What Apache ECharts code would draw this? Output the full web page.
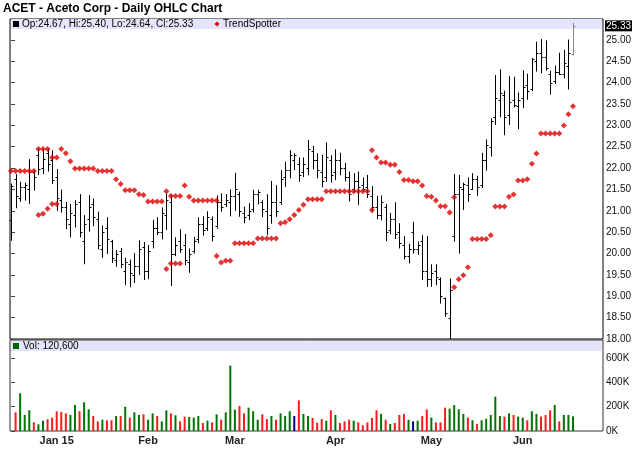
<!DOCTYPE html>
<html lang="en">
<head>
<meta charset="utf-8">
<title>ACET - Aceto Corp - Daily OHLC Chart</title>
<script src="https://cdn.jsdelivr.net/npm/echarts@6/dist/echarts.min.js"></script>
<style>
  * { margin: 0; padding: 0; box-sizing: border-box; }
  html, body { width: 100%; height: 100%; background: #fff; }
  #main { width: 640px; height: 468px; }
</style>
</head>
<body>
<div id="main"></div>
<script>
// trading days shown on the chart
const dates = [
  '2014-12-17','2014-12-18','2014-12-19','2014-12-22','2014-12-23','2014-12-24','2014-12-26','2014-12-29','2014-12-30','2014-12-31',
  '2015-01-02','2015-01-05','2015-01-06','2015-01-07','2015-01-08','2015-01-09','2015-01-12','2015-01-13','2015-01-14','2015-01-15',
  '2015-01-16','2015-01-20','2015-01-21','2015-01-22','2015-01-23','2015-01-26','2015-01-27','2015-01-28','2015-01-29','2015-01-30',
  '2015-02-02','2015-02-03','2015-02-04','2015-02-05','2015-02-06','2015-02-09','2015-02-10','2015-02-11','2015-02-12','2015-02-13',
  '2015-02-17','2015-02-18','2015-02-19','2015-02-20','2015-02-23','2015-02-24','2015-02-25','2015-02-26','2015-02-27',
  '2015-03-02','2015-03-03','2015-03-04','2015-03-05','2015-03-06','2015-03-09','2015-03-10','2015-03-11','2015-03-12','2015-03-13',
  '2015-03-16','2015-03-17','2015-03-18','2015-03-19','2015-03-20','2015-03-23','2015-03-24','2015-03-25','2015-03-26','2015-03-27',
  '2015-03-30','2015-03-31',
  '2015-04-01','2015-04-02','2015-04-06','2015-04-07','2015-04-08','2015-04-09','2015-04-10','2015-04-13','2015-04-14','2015-04-15',
  '2015-04-16','2015-04-17','2015-04-20','2015-04-21','2015-04-22','2015-04-23','2015-04-24','2015-04-27','2015-04-28','2015-04-29',
  '2015-04-30',
  '2015-05-01','2015-05-04','2015-05-05','2015-05-06','2015-05-07','2015-05-08','2015-05-11','2015-05-12','2015-05-13','2015-05-14',
  '2015-05-15','2015-05-18','2015-05-19','2015-05-20','2015-05-21','2015-05-22','2015-05-26','2015-05-27','2015-05-28','2015-05-29',
  '2015-06-01','2015-06-02','2015-06-03','2015-06-04','2015-06-05','2015-06-08','2015-06-09','2015-06-10','2015-06-11','2015-06-12',
  '2015-06-15','2015-06-16'
];
const monthLabels = ['Jan 15', 'Feb', 'Mar', 'Apr', 'May', 'Jun'];

const opens = [
  20.78,21.75,21.30,21.55,21.50,21.90,22.30,22.00,22.35,22.20,
  21.80,21.25,21.10,20.70,20.90,21.20,20.30,20.80,21.15,20.80,
  20.10,20.60,20.30,19.85,20.05,19.60,19.75,19.50,19.70,20.15,
  19.60,20.30,20.60,20.50,20.90,21.20,20.00,20.30,20.20,19.80,
  20.05,20.35,20.70,20.60,20.80,20.65,21.20,21.15,21.20,21.35,
  21.40,20.95,20.90,21.05,21.40,21.20,21.00,20.90,21.20,21.20,
  21.80,21.95,22.20,22.10,21.90,22.00,22.40,22.20,21.90,21.80,
  22.20,21.90,22.20,22.00,21.80,21.50,21.70,21.60,21.55,21.35,
  21.10,20.90,21.10,20.55,20.80,20.50,20.20,19.95,20.50,20.10,
  20.30,19.60,19.40,19.60,19.40,18.95,18.50,20.40,21.40,21.50,
  21.60,21.50,21.75,21.60,22.20,22.50,23.20,23.60,23.70,23.25,
  23.60,23.45,23.65,23.95,23.85,24.50,24.70,24.60,24.20,24.05,
  24.25,24.20,24.40,24.67
];
const highs = [
  21.64,21.86,21.68,21.66,22.21,21.96,22.46,22.44,22.46,22.42,
  21.98,21.50,21.21,21.16,21.25,21.39,20.90,21.37,21.29,20.98,
  20.66,20.85,20.32,20.08,20.13,19.90,19.86,20.01,20.31,20.27,
  20.20,20.79,20.85,21.08,21.41,21.39,20.38,20.57,20.46,20.12,
  20.39,20.85,20.87,20.99,20.87,21.36,21.41,21.39,21.50,21.89,
  21.45,21.10,21.18,21.49,21.49,21.25,21.39,21.70,21.60,21.95,
  22.15,22.42,22.35,22.25,22.25,22.66,22.52,22.35,22.31,22.60,
  22.30,22.44,22.36,22.12,21.92,21.88,21.92,21.78,21.84,21.58,
  21.35,21.36,21.16,20.95,21.20,20.71,20.41,20.23,20.74,20.28,
  20.43,20.41,19.75,19.75,19.44,18.97,19.42,21.86,21.84,21.66,
  21.78,21.88,21.82,22.36,22.67,23.17,24.18,24.31,23.81,24.16,
  24.14,23.77,24.29,24.21,24.58,24.96,25.02,24.99,24.28,24.40,
  24.70,24.77,25.01,25.40
];
const lows = [
  20.30,21.06,21.21,21.24,21.16,21.47,21.84,21.86,21.92,21.63,
  21.00,20.96,20.57,20.38,20.61,20.38,19.75,20.51,20.64,20.10,
  19.90,19.99,19.78,19.69,19.66,19.26,19.21,19.31,19.50,19.38,
  19.40,20.12,20.43,20.33,20.55,19.24,19.94,20.02,19.73,19.55,
  20.00,20.24,20.42,20.53,20.28,20.58,20.98,21.09,20.87,21.00,
  20.86,20.71,20.78,20.96,21.15,20.85,20.43,20.70,20.86,21.14,
  21.56,21.76,21.95,21.68,21.79,21.83,21.97,21.76,21.55,21.68,
  21.66,21.72,21.83,21.69,21.22,21.42,21.14,21.45,21.30,20.96,
  20.80,20.78,20.29,20.45,20.34,20.12,19.86,19.77,20.00,19.97,
  19.38,19.22,19.22,19.26,18.83,18.52,18.00,20.28,20.00,21.02,
  21.21,21.49,21.35,21.53,21.94,22.27,23.01,23.19,22.77,23.01,
  23.42,22.91,23.40,23.60,23.80,24.26,24.22,24.28,23.72,23.97,
  24.18,24.10,23.84,24.64
];
const closes = [
  21.58,21.35,21.55,21.60,21.90,21.80,21.98,22.21,22.10,21.72,
  21.30,21.10,20.80,20.95,21.15,20.50,20.70,21.10,20.85,20.20,
  20.50,20.35,19.90,20.00,19.75,19.80,19.55,19.70,20.10,19.60,
  20.05,20.60,20.50,20.95,21.25,20.00,20.20,20.10,19.85,20.00,
  20.30,20.70,20.55,20.85,20.40,21.20,21.10,21.25,21.35,21.50,
  21.00,20.85,21.00,21.40,21.45,21.05,20.60,21.20,21.00,21.75,
  21.95,22.30,22.30,21.85,22.10,22.45,22.20,21.95,21.70,22.25,
  21.85,22.20,22.00,21.80,21.40,21.70,21.55,21.50,21.40,21.10,
  20.90,21.20,20.50,20.80,20.45,20.25,19.95,20.10,20.10,20.20,
  19.60,19.40,19.55,19.45,19.00,18.60,19.15,21.40,21.55,21.62,
  21.40,21.75,21.55,22.20,22.55,23.10,23.65,23.75,23.20,23.55,
  23.48,23.60,23.90,23.80,24.55,24.70,24.60,24.35,24.00,24.25,
  24.20,24.45,24.70,25.33
];
// volume in thousands of shares
const volK = [
  null,153,310,132,170,71,55,85,96,110,
  162,156,145,132,214,162,236,178,123,79,
  93,88,88,123,123,200,110,153,132,137,
  93,145,123,79,170,145,129,79,118,115,
  110,123,66,85,71,137,93,153,537,175,
  206,145,192,162,93,137,99,123,93,145,
  123,162,123,252,140,123,107,68,99,85,
  170,132,66,79,93,85,71,47,71,107,
  170,140,93,58,66,132,140,93,79,85,
  123,178,110,71,71,192,184,214,178,140,
  110,88,58,88,101,132,282,123,118,145,
  132,118,110,88,162,140,118,132,170,214,
  79,132,132,120.6
];
// TrendSpotter dots, two overlapping tracks
const trendUp = [
  21.93,21.93,21.93,21.93,21.93,21.93,22.45,22.45,22.45,22.25,
  22.25,22.45,22.35,22.16,21.99,21.99,21.99,21.99,21.99,21.93,
  21.93,21.93,21.93,21.74,21.63,21.48,21.48,21.48,21.39,21.37,
  21.22,21.22,21.22,21.22,21.46,21.35,21.35,21.35,21.59,21.33,
  21.24,21.24,21.24,21.24,21.24,21.24,null,null,null,null,
  null,null,null,null,null,null,null,null,null,null,
  null,null,null,null,null,null,null,null,null,null,
  null,null,null,null,null,null,null,null,null,22.42,
  22.25,22.13,22.13,22.08,22.08,21.91,21.72,21.72,21.69,21.69,
  21.59,21.35,21.33,21.24,21.11,21.11,20.96,21.32,null,null,
  null,null,null,null,null,null,null,null,null,null,
  null,null,null,null,null,null,null,null,null,null,
  null,null,null,null
];
const trendDn = [
  null,null,null,null,null,null,20.90,20.93,21.05,21.16,
  21.16,null,null,null,null,null,null,null,null,null,
  null,null,null,null,null,null,null,null,null,null,
  null,null,null,null,19.64,19.77,19.77,19.77,null,null,
  null,null,null,null,null,19.94,19.79,19.83,19.83,20.24,
  20.24,20.24,20.24,20.24,20.35,20.35,20.35,20.35,20.35,20.71,
  20.73,20.80,20.90,21.02,21.14,21.27,21.27,21.27,21.27,21.46,
  21.46,21.46,21.46,21.46,21.46,21.46,21.46,21.46,21.46,21.02,
  null,null,null,null,null,null,null,null,null,null,
  null,null,null,null,null,null,null,19.21,19.40,19.49,
  19.68,20.34,20.34,20.34,20.34,20.43,21.10,21.10,21.10,21.33,
  21.38,21.71,21.71,21.74,22.10,22.34,22.81,22.81,22.81,22.81,
  22.81,23.00,23.26,23.45
];

const font = '"Liberation Sans", Arial, sans-serif';
const last = dates.length - 1;

// first trading day of each month gets a label
const monthStarts = [];
for (let i = 1; i < dates.length; i++) {
  if (dates[i].slice(0, 7) !== dates[i - 1].slice(0, 7)) monthStarts.push(i);
}

const ohlc = dates.map((d, i) => [i, opens[i], highs[i], lows[i], closes[i]]);
const vol = volK.map((v, i) => [i, v]);
const toPoints = arr => arr.map((v, i) => [i, v]).filter(p => p[1] != null);

function volColor(i) {
  if (i === 0 || closes[i] > closes[i - 1]) return '#007400';
  if (closes[i] < closes[i - 1]) return '#ff1a1a';
  return '#000080';
}

function renderOhlc(params, api) {
  const i = api.value(0);
  const hi = api.coord([i, api.value(2)]);
  const lo = api.coord([i, api.value(3)]);
  const op = api.coord([i, api.value(1)])[1];
  const cl = api.coord([i, api.value(4)])[1];
  const x = Math.round(hi[0]) + 0.5;
  const color = i === last ? '#888' : '#000';
  const line = (x1, y1, x2, y2) => ({
    type: 'line',
    shape: { x1: x1, y1: y1, x2: x2, y2: y2 },
    style: { stroke: color, lineWidth: 1 }
  });
  return {
    type: 'group',
    children: [
      line(x, hi[1], x, lo[1]),
      line(x - 2, Math.round(op) + 0.5, x, Math.round(op) + 0.5),
      line(x, Math.round(cl) + 0.5, x + 2, Math.round(cl) + 0.5)
    ]
  };
}

const legendText = 'Op:' + opens[last].toFixed(2) + ', Hi:' + highs[last].toFixed(2) +
  ', Lo:' + lows[last].toFixed(2) + ', Cl:' + closes[last].toFixed(2);
const volText = 'Vol: ' + Math.round(volK[last] * 1000).toLocaleString('en-US');

const graphics = [
  { type: 'rect', shape: { x: 11, y: 19, width: 591, height: 10 }, style: { fill: '#e4e4fa' }, z: 1, silent: true },
  { type: 'rect', shape: { x: 13, y: 21, width: 6, height: 6 }, style: { fill: '#000' }, z: 10 },
  { type: 'text', x: 22, y: 24, style: { text: legendText, fontSize: 10, fontFamily: font, fill: '#000', verticalAlign: 'middle' }, z: 10 },
  { type: 'polygon', shape: { points: [[217, 21.5], [219.5, 24], [217, 26.5], [214.5, 24]] }, style: { fill: '#dd0000' }, z: 10 },
  { type: 'text', x: 223, y: 24, style: { text: 'TrendSpotter', fontSize: 10, fontFamily: font, fill: '#000', verticalAlign: 'middle' }, z: 10 },
  { type: 'rect', shape: { x: 11, y: 341, width: 591, height: 10 }, style: { fill: '#e4e4fa' }, z: 1, silent: true },
  { type: 'rect', shape: { x: 13, y: 343, width: 6, height: 6 }, style: { fill: '#006400' }, z: 10 },
  { type: 'text', x: 23, y: 346, style: { text: volText, fontSize: 10, fontFamily: font, fill: '#000', verticalAlign: 'middle' }, z: 10 }
];

const chart = echarts.init(document.getElementById('main'));

chart.setOption({
  animation: false,
  backgroundColor: '#fff',
  title: {
    text: 'ACET - Aceto Corp - Daily OHLC Chart',
    left: 3,
    top: 3,
    padding: 0,
    textStyle: { fontSize: 12, fontWeight: 'bold', fontFamily: font, color: '#000' }
  },
  grid: [
    { left: 10, right: 37, top: 19, height: 320, show: true, borderColor: '#000', borderWidth: 1, backgroundColor: '#fff' },
    { left: 10, right: 37, top: 340, height: 91, show: true, borderColor: '#333', borderWidth: 1, backgroundColor: '#fff' }
  ],
  xAxis: [
    {
      type: 'value', gridIndex: 0, min: -0.22, max: 129.57,
      axisLine: { show: false }, axisTick: { show: false }, axisLabel: { show: false }, splitLine: { show: false }
    },
    {
      type: 'value', gridIndex: 1, min: -0.22, max: 129.57,
      axisLine: { show: false },
      axisTick: { show: false },
      axisLabel: {
        customValues: monthStarts,
        formatter: v => monthLabels[monthStarts.indexOf(v)],
        fontSize: 11, fontWeight: 'bold', fontFamily: font, color: '#222', margin: 4
      },
      splitLine: { show: false }
    }
  ],
  yAxis: [
    {
      type: 'value', gridIndex: 0, position: 'right', min: 18, max: 25.49, interval: 0.5,
      axisLine: { show: false },
      axisTick: { show: true, length: 4, lineStyle: { color: '#444' } },
      axisLabel: { formatter: v => v.toFixed(2), fontSize: 10, fontFamily: font, color: '#111', margin: 3, showMaxLabel: false },
      splitLine: { show: false }
    },
    {
      type: 'value', gridIndex: 1, position: 'right', min: 0, max: 748, interval: 200,
      axisLine: { show: false },
      axisTick: { show: true, length: 4, lineStyle: { color: '#444' } },
      axisLabel: { formatter: v => v + 'K', fontSize: 10, fontFamily: font, color: '#111', margin: 3, showMaxLabel: false },
      splitLine: { show: false }
    }
  ],
  series: [
    {
      name: 'OHLC', type: 'custom', xAxisIndex: 0, yAxisIndex: 0,
      data: ohlc, encode: { x: 0, y: [1, 2, 3, 4] }, renderItem: renderOhlc, z: 3
    },
    {
      name: 'TrendSpotter', type: 'scatter', xAxisIndex: 0, yAxisIndex: 0,
      data: toPoints(trendUp), symbol: 'diamond', symbolSize: 6,
      itemStyle: { color: '#dd0000' }, z: 4
    },
    {
      name: 'TrendSpotter', type: 'scatter', xAxisIndex: 0, yAxisIndex: 0,
      data: toPoints(trendDn), symbol: 'diamond', symbolSize: 6,
      itemStyle: { color: '#dd0000' }, z: 4
    },
    {
      name: 'Volume', type: 'bar', xAxisIndex: 1, yAxisIndex: 1,
      data: vol, barWidth: 2,
      itemStyle: { color: p => volColor(p.dataIndex) }, z: 3
    }
  ],
  graphic: graphics
});

// last price tag on the right axis
const lastY = chart.convertToPixel({ yAxisIndex: 0 }, closes[last]);
chart.setOption({
  graphic: graphics.concat([{
    type: 'text', x: 605, y: lastY,
    style: {
      text: closes[last].toFixed(2), fontSize: 10, fontFamily: font, fill: '#fff',
      backgroundColor: '#000', padding: [1, 1, 0, 1], verticalAlign: 'middle'
    },
    z: 20
  }])
});
</script>
</body>
</html>
